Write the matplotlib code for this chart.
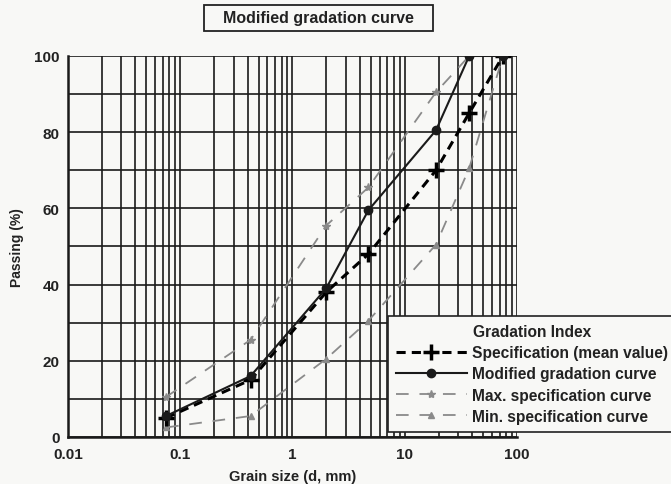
import matplotlib.pyplot as plt
from matplotlib.patches import Rectangle
from matplotlib.ticker import LogLocator, FixedLocator

plt.rcParams['font.family'] = ['Liberation Sans', 'DejaVu Sans']

# Sieve sizes (mm) and percent passing
sieve = [0.075, 0.425, 2, 4.75, 19, 37.5, 75]
spec_mean = [5, 15, 38, 48, 70, 85, 100]
modified = [5.5, 16, 39, 59.5, 80.5, 100, 100]
max_spec = [10.5, 25.5, 55.5, 65.5, 90.5, 100, 100]
min_spec = [2.5, 5.5, 20.5, 30.5, 50.5, 70.5, 100]

x_ticks = [0.01, 0.1, 1, 10, 100]
x_tick_labels = ["0.01", "0.1", "1", "10", "100"]
y_ticks = [0, 20, 40, 60, 80, 100]

ink = "#222222"
paper = "#f8f8f6"

fig = plt.figure(figsize=(6.71, 4.85), dpi=100, facecolor=paper)
ax = fig.add_axes([0.101, 0.097, 0.6695, 0.7855])
ax.set_facecolor(paper)

ax.plot(sieve, spec_mean, color="black", linestyle=(0, (3, 2)), linewidth=2.2,
        marker="+", markersize=11, markeredgewidth=2.5,
        label="Specification (mean value)", zorder=5)
ax.plot(sieve, modified, color="#1a1a1a", linestyle="-", linewidth=1.5,
        marker="o", markersize=6, label="Modified gradation curve", zorder=6)
ax.plot(sieve, max_spec, color="#8a8a8a", linestyle=(0, (7, 6)), linewidth=1.3,
        marker="*", markersize=6, label="Max. specification curve", zorder=4)
ax.plot(sieve, min_spec, color="#8a8a8a", linestyle=(0, (7, 6)), linewidth=1.3,
        marker="^", markersize=5, label="Min. specification curve", zorder=4)

ax.set_xscale("log")
ax.set_xlim(0.01, 100)
ax.set_ylim(0, 100)
ax.xaxis.set_major_locator(FixedLocator(x_ticks))
ax.set_xticklabels(x_tick_labels)
ax.xaxis.set_minor_locator(LogLocator(base=10, subs=range(2, 10)))
ax.set_yticks(y_ticks)
ax.yaxis.set_minor_locator(FixedLocator(range(10, 100, 20)))

ax.grid(True, which="both", axis="both", color="#1a1a1a", linewidth=1.2)
ax.set_axisbelow(True)
ax.tick_params(which="both", length=0, labelsize=11)
ax.tick_params(axis="x", pad=7)
ax.tick_params(axis="y", pad=6)
for lbl in ax.get_xticklabels() + ax.get_yticklabels():
    lbl.set_fontweight("bold")
    lbl.set_color(ink)

for side in ["left", "bottom"]:
    ax.spines[side].set_linewidth(1.8)
    ax.spines[side].set_color("#1a1a1a")
for side in ["top", "right"]:
    ax.spines[side].set_visible(False)

ax.set_xlabel("Grain size (d, mm)", fontsize=10.5, fontweight="bold",
              color=ink, labelpad=6)
ax.set_ylabel("Passing (%)", fontsize=10, fontweight="bold",
              color=ink, labelpad=7)

# boxed title
fig.patches.append(Rectangle((0.304, 0.934), 0.341, 0.0536, transform=fig.transFigure,
                             facecolor="none", edgecolor=ink, linewidth=1.3))
fig.text(0.4745, 0.961, "Modified gradation curve", ha="center", va="center",
         fontsize=11.5, fontweight="bold", color=ink)

leg = fig.legend(loc="upper left", bbox_to_anchor=(0.578, 0.346),
                 title="Gradation Index", fontsize=11.2, title_fontsize=11.2,
                 handlelength=4.6, handletextpad=0.3, labelspacing=0.4,
                 borderpad=0.5, borderaxespad=0, frameon=True, fancybox=False,
                 edgecolor=ink, facecolor=paper, framealpha=1)
leg.get_frame().set_linewidth(1.2)
leg.get_title().set_fontweight("bold")
leg.get_title().set_color(ink)
for t in leg.get_texts():
    t.set_fontweight("bold")
    t.set_color(ink)

fig.savefig("out.png", dpi=100, facecolor=fig.get_facecolor())
